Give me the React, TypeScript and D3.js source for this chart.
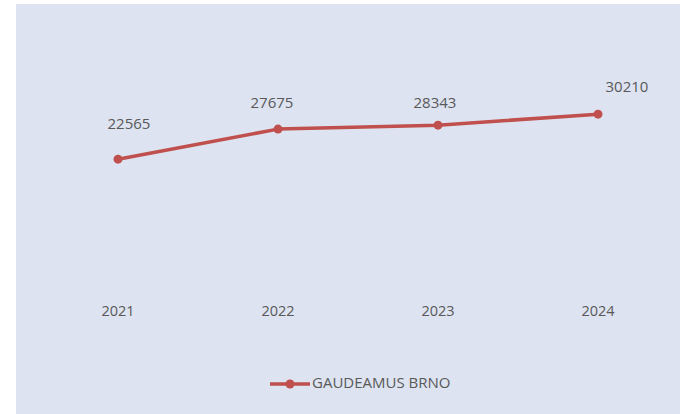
import React from "react";
import * as d3 from "d3";

const years = ["2021", "2022", "2023", "2024"];
const visitors = [22565, 27675, 28343, 30210];
const seriesName = "GAUDEAMUS BRNO";
// small manual label nudges (dx, dy) as in the reference
const labelDx = [11, -6, -3, 29];
const labelDy = [-34, -25, -21, -26];

const W = 680;
const H = 414;
const FONT = "'Open Sans', 'Noto Sans', sans-serif";
const TEXT = "#595959";
const RED = "#c0504d";

export default function App() {
  const x = d3.scaleBand<string>().domain(years).range([38, 678]);
  const y = d3.scaleLinear().domain([0, 35000]).range([292, 86]);
  const cx = (d: string) => (x(d) ?? 0) + x.bandwidth() / 2;

  const line = d3
    .line<number>()
    .x((_, i) => cx(years[i]))
    .y((v) => y(v));

  return (
    <div style={{ position: "fixed", left: 0, top: 0 }}>
      <svg width={W} height={H} style={{ display: "block" }}>
        <rect x={0} y={0} width={W} height={H} fill="#ffffff" />
        <rect x={16} y={4} width={W - 16} height={H - 4} fill="#dde3f0" />
        <path d={line(visitors) ?? ""} fill="none" stroke={RED} strokeWidth={3.5} strokeLinejoin="round" />
        {visitors.map((v, i) => (
          <circle key={"m" + i} cx={cx(years[i])} cy={y(v)} r={4.5} fill={RED} />
        ))}
        {visitors.map((v, i) => (
          <text
            key={"l" + i}
            x={cx(years[i]) + labelDx[i]}
            y={y(v) + labelDy[i]}
            textAnchor="middle"
            dominantBaseline="middle"
            fontFamily={FONT}
            fontSize={15}
            fill={TEXT}
          >
            {d3.format("d")(v)}
          </text>
        ))}
        {years.map((yr) => (
          <text
            key={yr}
            x={cx(yr)}
            y={312}
            textAnchor="middle"
            dominantBaseline="middle"
            fontFamily={FONT}
            fontSize={14.5}
            fill={TEXT}
          >
            {yr}
          </text>
        ))}
        <g>
          <line x1={270} x2={310} y1={384} y2={384} stroke={RED} strokeWidth={3.5} />
          <circle cx={290} cy={384} r={4.5} fill={RED} />
          <text x={312} y={384} dominantBaseline="middle" fontFamily={FONT} fontSize={15} fill={TEXT}>
            {seriesName}
          </text>
        </g>
      </svg>
    </div>
  );
}
